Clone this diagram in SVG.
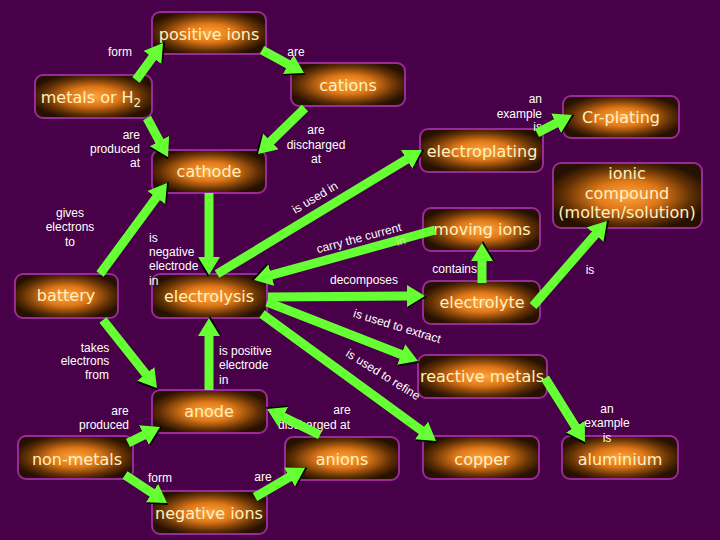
<svg xmlns="http://www.w3.org/2000/svg" width="720" height="540" viewBox="0 0 720 540">
<defs>
<radialGradient id="ng" cx="50%" cy="50%" r="55%">
<stop offset="0" stop-color="#ffa640"/>
<stop offset="0.4" stop-color="#e07818"/>
<stop offset="0.78" stop-color="#603004"/>
<stop offset="1" stop-color="#261000"/>
</radialGradient>
<marker id="ah" markerUnits="userSpaceOnUse" viewBox="0 0 22 24" markerWidth="22" markerHeight="24" refX="2" refY="11" orient="auto">
<path d="M1,2 L20,12 L1,23 Z" fill="#000"/>
<path d="M0,0 L18,11 L0,22 Z" fill="#66ff33"/>
</marker>
<style>
.node{fill:url(#ng);stroke:#9a2a9a;stroke-width:2}
.nt{font-family:"DejaVu Sans",sans-serif;font-size:16px;fill:#fff2c0;text-anchor:middle}
.lb{font-family:"Liberation Sans",Arial,sans-serif;font-size:12px;fill:#ffffff}
.m{text-anchor:middle}
.e{text-anchor:end}
.c{fill:none;stroke:#66ff33;stroke-width:9;marker-end:url(#ah)}
</style>
</defs>
<rect x="0" y="0" width="720" height="540" fill="#480048"/>
<g id="nodes">
<g id="positive-ions"><rect class="node" x="152" y="12" width="114" height="42" rx="8"/><text class="nt" x="209" y="40">positive ions</text></g>
<g id="cations"><rect class="node" x="291" y="63" width="114" height="43" rx="8"/><text class="nt" x="348" y="91">cations</text></g>
<g id="metals-or-h2"><rect class="node" x="35" y="75" width="117" height="43" rx="8"/><text class="nt" x="91" y="103">metals or H<tspan font-size="12" dy="4">2</tspan></text></g>
<g id="cathode"><rect class="node" x="152" y="150" width="114" height="43" rx="8"/><text class="nt" x="209" y="177">cathode</text></g>
<g id="electroplating"><rect class="node" x="420" y="129" width="123" height="43" rx="8"/><text class="nt" x="482" y="157">electroplating</text></g>
<g id="cr-plating"><rect class="node" x="563" y="96" width="116" height="42" rx="8"/><text class="nt" x="621" y="123">Cr-plating</text></g>
<g id="ionic-compound"><rect class="node" x="553" y="163" width="149" height="65" rx="8"/><text class="nt" x="627" y="179">ionic</text><text class="nt" x="627" y="199">compound</text><text class="nt" x="627" y="218">(molten/solution)</text></g>
<g id="moving-ions"><rect class="node" x="423" y="208" width="117" height="43" rx="8"/><text class="nt" x="482" y="235">moving ions</text></g>
<g id="electrolyte"><rect class="node" x="423" y="281" width="117" height="43" rx="8"/><text class="nt" x="482" y="308">electrolyte</text></g>
<g id="battery"><rect class="node" x="15" y="274" width="103" height="44" rx="8"/><text class="nt" x="66" y="301">battery</text></g>
<g id="electrolysis"><rect class="node" x="152" y="274" width="115" height="44" rx="8"/><text class="nt" x="209" y="302">electrolysis</text></g>
<g id="reactive-metals"><rect class="node" x="418" y="355" width="129" height="43" rx="8"/><text class="nt" x="482" y="382">reactive metals</text></g>
<g id="anode"><rect class="node" x="152" y="390" width="115" height="43" rx="8"/><text class="nt" x="209" y="417">anode</text></g>
<g id="non-metals"><rect class="node" x="18" y="436" width="115" height="43" rx="8"/><text class="nt" x="77" y="465">non-metals</text></g>
<g id="anions"><rect class="node" x="285" y="437" width="114" height="43" rx="8"/><text class="nt" x="342" y="465">anions</text></g>
<g id="copper"><rect class="node" x="423" y="436" width="116" height="43" rx="8"/><text class="nt" x="482" y="465">copper</text></g>
<g id="aluminium"><rect class="node" x="562" y="436" width="116" height="43" rx="8"/><text class="nt" x="620" y="465">aluminium</text></g>
<g id="negative-ions"><rect class="node" x="152" y="491" width="115" height="43" rx="8"/><text class="nt" x="209" y="519">negative ions</text></g>
</g>
<g id="labels">
<text class="lb m" x="120" y="56">form</text>
<text class="lb m" x="296" y="56">are</text>
<text class="lb e" x="140" y="139">are</text>
<text class="lb e" x="140" y="153">produced</text>
<text class="lb e" x="140" y="167">at</text>
<text class="lb m" x="316" y="134">are</text>
<text class="lb m" x="316" y="149">discharged</text>
<text class="lb m" x="316" y="163">at</text>
<text class="lb e" x="542" y="103">an</text>
<text class="lb e" x="542" y="118">example</text>
<text class="lb e" x="542" y="131">is</text>
<text class="lb m" x="70" y="217">gives</text>
<text class="lb m" x="70" y="231">electrons</text>
<text class="lb m" x="70" y="246">to</text>
<text class="lb" x="149" y="242">is</text>
<text class="lb" x="149" y="256">negative</text>
<text class="lb" x="149" y="270">electrode</text>
<text class="lb" x="149" y="285">in</text>
<text class="lb m" transform="translate(317,201) rotate(-31)">is used in</text>
<text class="lb m" transform="translate(360,242) rotate(-15)">carry the current</text>
<text class="lb m" x="364" y="284">decomposes</text>
<text class="lb e" x="477" y="273">contains</text>
<text class="lb m" x="590" y="274">is</text>
<text class="lb m" transform="translate(396,330) rotate(17)">is used to extract</text>
<text class="lb m" transform="translate(381,378) rotate(32)">is used to refine</text>
<text class="lb m" x="95" y="352">takes</text>
<text class="lb m" x="85" y="365">electrons</text>
<text class="lb m" x="97" y="379">from</text>
<text class="lb" x="219" y="355">is positive</text>
<text class="lb" x="219" y="369">electrode</text>
<text class="lb" x="219" y="384">in</text>
<text class="lb m" x="120" y="415">are</text>
<text class="lb m" x="104" y="429">produced</text>
<text class="lb m" x="160" y="482">form</text>
<text class="lb m" x="263" y="481">are</text>
<text class="lb m" x="342" y="414">are</text>
<text class="lb m" x="314" y="429">discharged at</text>
<text class="lb m" x="607" y="413">an</text>
<text class="lb m" x="607" y="427">example</text>
<text class="lb m" x="607" y="442">is</text>
</g>
<g id="connectors">
<path class="c" d="M136,80 L153.6,55.9"/>
<path class="c" d="M262,50 L290,65.3"/>
<path class="c" d="M305,108 L269.4,142.8"/>
<path class="c" d="M147,118 L160.4,142.9"/>
<path class="c" d="M217,274 L408.3,158.3"/>
<path class="c" d="M435,230 L269.4,275.7"/>
<path class="c" d="M209,193 L209,259"/>
<path class="c" d="M100,274 L157.5,195.9"/>
<path class="c" d="M268,297 L409,296"/>
<path class="c" d="M267,302 L403.1,355.2"/>
<path class="c" d="M262,314 L423.1,431.6"/>
<path class="c" d="M482,283 L482,259"/>
<path class="c" d="M533,306 L596.5,233.1"/>
<path class="c" d="M537,133 L557.8,122.3"/>
<path class="c" d="M545,378 L576.5,428.4"/>
<path class="c" d="M209,390 L209,334"/>
<path class="c" d="M103,320 L147,375.5"/>
<path class="c" d="M128,443 L145.7,434.2"/>
<path class="c" d="M125,475 L153.7,494.1"/>
<path class="c" d="M255,497 L291.2,476"/>
<path class="c" d="M320,435 L281.4,416.1"/>
</g>
<g id="overlay-labels">
<text class="lb m" fill-opacity="0.7" style="fill:#f0f0a0" transform="translate(402,245) rotate(-15)">in</text>
</g>
</svg>
